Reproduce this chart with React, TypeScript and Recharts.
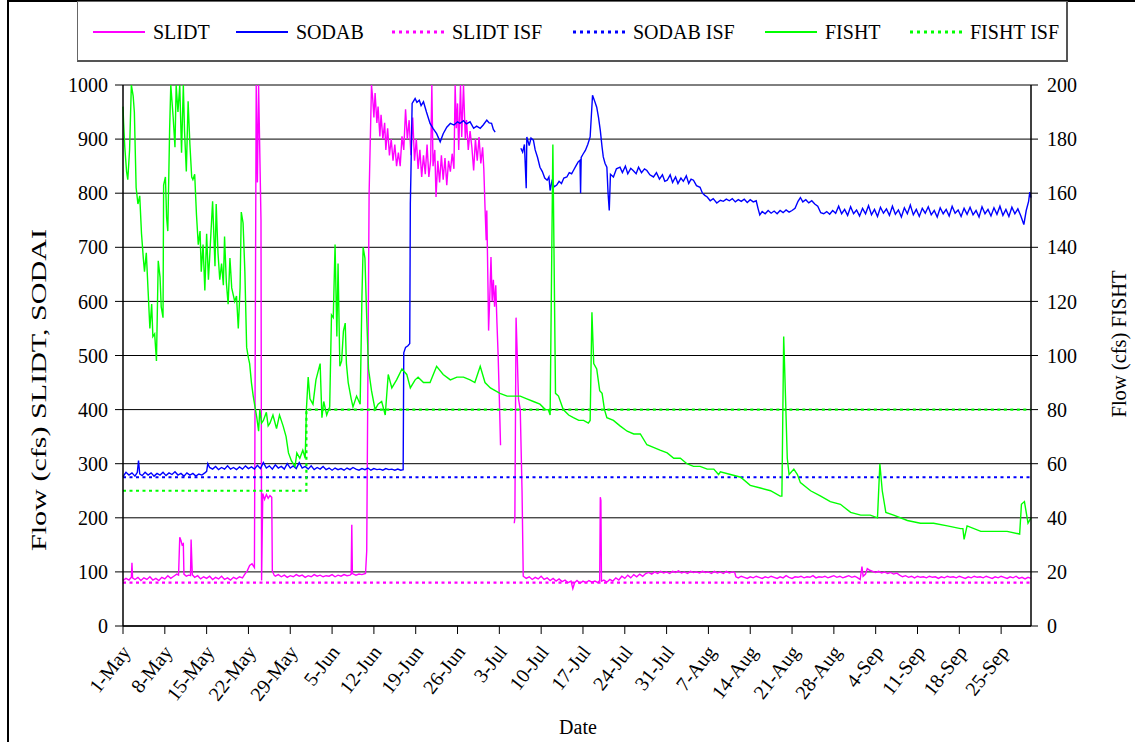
import { LineChart, Line, XAxis, YAxis, CartesianGrid, Legend } from 'recharts';

const FONT = '"Liberation Serif", "Times New Roman", serif';

// weekly tick labels, day 0 = 1-May
const dateTicks = [
  '1-May', '8-May', '15-May', '22-May', '29-May', '5-Jun', '12-Jun', '19-Jun', '26-Jun', '3-Jul', '10-Jul',
  '17-Jul', '24-Jul', '31-Jul', '7-Aug', '14-Aug', '21-Aug', '28-Aug', '4-Sep', '11-Sep', '18-Sep', '25-Sep',
];

const leftTicks = [0, 100, 200, 300, 400, 500, 600, 700, 800, 900, 1000];
const rightTicks = [0, 20, 40, 60, 80, 100, 120, 140, 160, 180, 200];

type Pt = [number, number | null];

// [day since 1-May, cfs]
const slidtFlow: Pt[] = [
  [0, 84], [0.5, 88], [1, 85], [1.4, 90], [1.5, 117], [1.6, 89], [2, 86], [2.5, 90], [3, 84], [3.5, 89], [4, 86],
  [4.5, 91], [5, 85], [5.5, 88], [6, 84], [6.5, 90], [7, 87], [7.5, 93], [8, 88], [8.5, 92], [9, 96], [9.3, 94],
  [9.5, 164], [9.7, 158], [9.9, 150], [10.1, 152], [10.2, 96], [10.6, 92], [11, 94], [11.3, 93], [11.4, 160],
  [11.6, 95], [12, 90], [12.5, 93], [13, 87], [13.5, 91], [14, 88], [14.5, 92], [15, 86], [15.5, 90], [16, 87],
  [16.5, 92], [17, 86], [17.5, 89], [18, 85], [18.5, 90], [19, 87], [19.5, 91], [20, 89], [20.4, 96], [20.8, 102],
  [21.2, 112], [21.6, 115], [22, 108], [22.3, 1000], [22.5, 820], [22.7, 1000], [23.1, 750], [23.2, 84],
  [23.4, 245], [23.7, 234], [24, 243], [24.3, 236], [24.6, 241], [24.9, 238], [25, 102], [25.3, 94], [25.5, 92],
  [26, 95], [26.5, 91], [27, 94], [27.5, 90], [28, 93], [28.5, 91], [29, 95], [29.5, 92], [30, 94], [30.5, 90],
  [31, 93], [31.5, 91], [32, 95], [32.5, 92], [33, 94], [33.5, 91], [34, 93], [34.5, 92], [35, 95], [35.5, 91],
  [36, 94], [36.5, 92], [37, 95], [37.5, 93], [38, 94], [38.2, 96], [38.3, 187], [38.4, 97], [39, 94], [39.5, 96],
  [40, 95], [40.6, 97], [40.8, 139], [41.2, 800], [41.6, 1000], [41.8, 975], [42, 940], [42.2, 985], [42.5, 930],
  [42.7, 960], [43, 905], [43.2, 945], [43.5, 900], [43.8, 930], [44, 880], [44.3, 920], [44.6, 870], [44.9, 900],
  [45.2, 860], [45.5, 890], [45.8, 850], [46.1, 875], [46.4, 850], [46.7, 905], [47, 880], [47.3, 955], [47.6, 900],
  [47.9, 935], [48.2, 870], [48.5, 940], [48.8, 860], [49.1, 900], [49.4, 845], [49.7, 880], [50, 830], [50.3, 870],
  [50.6, 835], [50.9, 890], [51.2, 830], [51.5, 860], [51.7, 1000], [51.9, 850], [52.2, 880], [52.4, 793],
  [52.7, 860], [53, 820], [53.3, 870], [53.6, 825], [53.9, 865], [54.2, 815], [54.5, 860], [54.8, 840], [55.1, 873],
  [55.4, 845], [55.6, 1000], [55.8, 920], [56, 966], [56.2, 880], [56.5, 1000], [56.7, 904], [57, 1000], [57.3, 900],
  [57.5, 935], [57.8, 880], [58.1, 915], [58.4, 885], [58.7, 842], [59, 900], [59.3, 860], [59.6, 904], [59.9, 855],
  [60.2, 885], [60.4, 845], [60.6, 774], [60.8, 713], [60.9, 768], [61.1, 626], [61.2, 546], [61.4, 608],
  [61.6, 682], [61.8, 600], [62, 640], [62.2, 590], [62.4, 630], [62.6, 560], [62.8, 500], [63, 420], [63.2, 334],
  [63.3, null],
  [65.5, 190], [65.6, 200], [65.8, 570], [66, 500], [66.2, 420], [66.5, 400], [66.8, 250], [67, 92], [67.5, 88],
  [68, 91], [68.5, 86], [69, 90], [69.5, 87], [70, 92], [70.5, 86], [71, 89], [71.5, 84], [72, 88], [72.5, 83],
  [73, 87], [73.5, 82], [74, 85], [74.5, 80], [75, 83], [75.3, 69], [75.6, 80], [76, 84], [76.5, 79], [77, 83],
  [77.5, 80], [78, 84], [78.5, 81], [79, 83], [79.5, 80], [79.8, 84], [79.9, 238], [80, 232], [80.1, 83], [80.5, 85],
  [81, 81], [81.5, 86], [82, 83], [82.5, 89], [83, 85], [83.5, 92], [84, 88], [84.5, 94], [85, 89], [85.5, 95],
  [86, 91], [86.5, 96], [87, 92], [87.5, 97], [88, 99], [88.5, 96], [89, 100], [89.5, 97], [90, 101], [90.5, 98],
  [91, 100], [91.5, 97], [92, 101], [92.5, 99], [93, 102], [93.5, 98], [94, 100], [94.5, 97], [95, 101], [95.5, 99],
  [96, 100], [96.5, 98], [97, 101], [97.5, 99], [98, 100], [98.5, 97], [99, 101], [99.5, 98], [100, 100], [100.5, 97],
  [101, 101], [101.5, 98], [102, 100], [102.4, 99], [102.6, 91], [103, 89], [103.5, 92], [104, 90], [104.5, 88],
  [105, 91], [105.5, 89], [106, 92], [106.5, 90], [107, 88], [107.5, 91], [108, 89], [108.5, 92], [109, 90],
  [109.5, 88], [110, 91], [110.5, 89], [111, 93], [111.5, 90], [112, 88], [112.5, 91], [113, 90], [113.5, 92],
  [114, 89], [114.5, 91], [115, 90], [115.5, 93], [116, 89], [116.5, 91], [117, 90], [117.5, 92], [118, 89],
  [118.5, 91], [119, 93], [119.5, 90], [120, 92], [120.5, 89], [121, 91], [121.5, 93], [122, 90], [122.5, 92],
  [123, 89], [123.4, 86], [123.7, 110], [123.9, 92], [124.3, 96], [124.6, 106], [125, 103], [125.5, 101], [126, 99],
  [126.5, 101], [127, 98], [127.5, 100], [128, 97], [128.5, 99], [129, 96], [129.5, 98], [130, 94], [130.5, 91],
  [131, 93], [131.5, 90], [132, 92], [132.5, 89], [133, 92], [133.5, 90], [134, 91], [134.5, 89], [135, 92],
  [135.5, 90], [136, 91], [136.5, 88], [137, 91], [137.5, 89], [138, 92], [138.5, 90], [139, 91], [139.5, 89],
  [140, 92], [140.5, 90], [141, 88], [141.5, 91], [142, 89], [142.5, 92], [143, 90], [143.5, 91], [144, 89],
  [144.5, 92], [145, 90], [145.5, 88], [146, 91], [146.5, 89], [147, 92], [147.5, 90], [148, 88], [148.5, 91],
  [149, 89], [149.5, 92], [150, 88], [150.5, 90], [151, 87], [151.5, 90], [152, 88],
];

const sodabFlow: Pt[] = [
  [0, 276], [0.5, 284], [1, 279], [1.5, 283], [2, 277], [2.4, 284], [2.6, 306], [2.8, 281], [3.2, 278], [3.7, 284],
  [4.2, 279], [4.7, 283], [5.2, 277], [5.7, 282], [6.2, 279], [6.7, 284], [7.2, 278], [7.7, 283], [8.2, 280],
  [8.7, 285], [9.2, 279], [9.7, 282], [10.2, 277], [10.7, 283], [11.2, 279], [11.7, 282], [12.2, 277], [12.7, 281],
  [13.2, 279], [13.7, 283], [14, 286], [14.2, 300], [14.5, 293], [15, 290], [15.5, 295], [16, 289], [16.5, 293],
  [17, 290], [17.5, 296], [18, 290], [18.5, 293], [19, 289], [19.5, 294], [20, 290], [20.5, 296], [21, 291],
  [21.5, 294], [22, 290], [22.5, 297], [23, 291], [23.5, 302], [24, 292], [24.5, 296], [25, 290], [25.5, 298],
  [26, 292], [26.5, 295], [27, 290], [27.5, 300], [28, 292], [28.5, 296], [29, 291], [29.5, 302], [30, 292],
  [30.5, 295], [31, 290], [31.5, 296], [32, 289], [32.5, 293], [33, 290], [33.5, 295], [34, 289], [34.5, 292],
  [35, 288], [35.5, 292], [36, 289], [36.5, 291], [37, 288], [37.5, 292], [38, 289], [38.5, 293], [39, 290],
  [39.5, 288], [40, 291], [40.5, 289], [41, 292], [41.5, 288], [42, 291], [42.5, 289], [43, 290], [43.5, 288],
  [44, 291], [44.5, 289], [45, 290], [45.5, 288], [46, 290], [46.5, 288], [46.9, 289], [47, 505], [47.3, 515],
  [47.7, 518], [48, 522], [48.1, 780], [48.2, 837], [48.4, 966], [48.9, 975], [49.2, 968], [49.6, 972], [49.9, 962],
  [50.3, 969], [50.8, 950], [51.4, 929], [51.9, 920], [52.5, 910], [53.1, 895], [53.6, 910], [54.2, 922],
  [54.8, 929], [55.4, 926], [56, 932], [56.4, 929], [57, 934], [57.5, 928], [58.1, 932], [58.7, 920], [59.2, 924],
  [59.8, 920], [60.3, 926], [60.9, 935], [61.3, 930], [61.7, 929], [62, 918], [62.3, 913],
  [62.4, null],
  [66.6, 883], [66.9, 876], [67.2, 890], [67.5, 809], [67.6, 904], [68, 888], [68.3, 902], [68.7, 898], [69, 880],
  [69.4, 866], [69.8, 848], [70.2, 840], [70.6, 828], [71, 824], [71.3, 830], [71.5, 805], [71.8, 822], [72.2, 812],
  [72.6, 815], [73, 822], [73.4, 818], [73.8, 828], [74.3, 830], [74.7, 838], [75.1, 836], [75.4, 842], [75.8, 850],
  [76.2, 858], [76.5, 861], [76.6, 800], [76.7, 866], [77, 872], [77.4, 879], [77.8, 890], [78.2, 904], [78.6, 981],
  [78.9, 972], [79.3, 959], [79.6, 940], [79.9, 916], [80.2, 885], [80.4, 867], [80.7, 855], [81, 848], [81.2, 800],
  [81.4, 768], [81.6, 835], [82.1, 830], [82.6, 845], [83.2, 848], [83.6, 838], [84.1, 850], [84.5, 836],
  [85, 846], [85.4, 842], [85.9, 836], [86.3, 848], [86.8, 838], [87.3, 845], [87.7, 842], [88.2, 834], [88.8, 830],
  [89.3, 838], [89.8, 826], [90.3, 834], [90.7, 822], [91.1, 824], [91.6, 834], [92, 820], [92.5, 830], [92.9, 818],
  [93.4, 828], [93.8, 822], [94.3, 832], [94.7, 818], [95.1, 826], [95.5, 824], [96, 814], [96.6, 811], [97, 800],
  [97.4, 796], [97.8, 793], [98.3, 786], [98.8, 790], [99.4, 782], [100, 787], [100.5, 785], [101, 789],
  [101.5, 786], [102, 790], [102.5, 784], [103, 788], [103.5, 785], [104, 789], [104.5, 783], [105, 788],
  [105.5, 784], [106, 786], [106.3, 772], [106.6, 760], [107, 766], [107.5, 762], [108, 768], [108.5, 763],
  [109, 767], [109.5, 762], [110, 768], [110.5, 764], [111, 769], [111.5, 765], [112, 768], [112.5, 772],
  [113, 785], [113.4, 792], [113.8, 784], [114.3, 788], [114.8, 782], [115.3, 786], [115.8, 780], [116.3, 776],
  [116.8, 764], [117.3, 762], [117.8, 766], [118.3, 761], [118.8, 768], [119.3, 763], [119.8, 776], [120.3, 762],
  [120.8, 770], [121.3, 759], [121.8, 775], [122.3, 762], [122.8, 769], [123.3, 758], [123.8, 772], [124.3, 762],
  [124.8, 777], [125.3, 760], [125.8, 770], [126.3, 757], [126.8, 774], [127.3, 763], [127.8, 771], [128.3, 759],
  [128.8, 776], [129.3, 761], [129.8, 769], [130.3, 756], [130.8, 773], [131.3, 762], [131.8, 778], [132.3, 760],
  [132.8, 770], [133.3, 757], [133.8, 772], [134.3, 763], [134.8, 775], [135.3, 760], [135.8, 768], [136.3, 756],
  [136.8, 773], [137.3, 762], [137.8, 770], [138.3, 758], [138.8, 776], [139.3, 763], [139.8, 769], [140.3, 757],
  [140.8, 772], [141.3, 761], [141.8, 774], [142.3, 760], [142.8, 768], [143.3, 756], [143.8, 775], [144.3, 762],
  [144.8, 770], [145.3, 758], [145.8, 773], [146.3, 761], [146.8, 776], [147.3, 759], [147.8, 770], [148.3, 757],
  [148.8, 774], [149.3, 762], [149.8, 771], [150.3, 758], [150.8, 742], [151.2, 768], [151.6, 785], [151.8, 802],
  [152, 792],
];

// FISHT is read on the right-hand axis
const fishtFlow: Pt[] = [
  [0, 192], [0.1, 186], [0.3, 177], [0.6, 168], [0.8, 165], [1.1, 176], [1.4, 200], [1.7, 196], [1.9, 190],
  [2.2, 162], [2.5, 156], [2.8, 159], [3.1, 145], [3.4, 136], [3.6, 131], [3.9, 138], [4.2, 124], [4.5, 110],
  [4.8, 119], [5, 107], [5.3, 108], [5.6, 98], [5.9, 135], [6.2, 129], [6.4, 118], [6.7, 114], [6.8, 163],
  [7.1, 166], [7.3, 151], [7.5, 146], [7.8, 183], [8, 200], [8.4, 188], [8.7, 177], [8.9, 200], [9.2, 190],
  [9.5, 200], [9.8, 175], [10.1, 200], [10.3, 183], [10.6, 168], [10.9, 194], [11.2, 178], [11.5, 166], [11.7, 165],
  [12, 167], [12.3, 152], [12.6, 141], [12.9, 146], [13.1, 131], [13.4, 141], [13.7, 124], [14, 145], [14.3, 128],
  [14.5, 136], [15, 157], [15.4, 133], [15.6, 156], [15.9, 138], [16.2, 128], [16.5, 134], [16.8, 126], [17, 144],
  [17.3, 127], [17.6, 119], [17.9, 136], [18.2, 125], [18.4, 123], [18.7, 120], [19, 122], [19.3, 110], [19.6, 125],
  [19.8, 153], [20.1, 149], [20.4, 131], [20.7, 103], [21, 99], [21.2, 97], [21.5, 90], [21.8, 85], [22.1, 81],
  [22.4, 77], [22.7, 72], [22.9, 80], [23.2, 75], [23.5, 76], [24, 79], [24.3, 74], [24.6, 75], [25.1, 78],
  [25.7, 73], [26.2, 78], [26.8, 74], [27.3, 70], [27.7, 64], [28.2, 61], [28.8, 59], [29.1, 64], [29.6, 62],
  [30.1, 65], [30.5, 62], [30.7, 80], [31, 92], [31.3, 84], [31.8, 82], [32.3, 91], [33, 97], [33.3, 77],
  [33.6, 83], [34.1, 78], [34.6, 81], [34.9, 115], [35.2, 114], [35.5, 141], [35.8, 107], [36, 134], [36.3, 96],
  [36.6, 98], [36.9, 109], [37.2, 112], [37.4, 97], [37.7, 90], [38.2, 84], [38.5, 81], [39.1, 85], [39.7, 82],
  [40, 122], [40.2, 140], [40.5, 136], [40.8, 114], [41.1, 95], [41.6, 87], [42.2, 80], [42.7, 82], [43.3, 83],
  [43.9, 78], [44.4, 93], [45, 88], [45.8, 91], [46.7, 95], [47.5, 93], [48.1, 88], [48.9, 91], [49.4, 92],
  [50.3, 90], [51.4, 90], [52.5, 96], [53.6, 93], [54.8, 91], [55.9, 92], [57, 92], [58.1, 91], [58.9, 90],
  [59.8, 96], [60.6, 90], [61.5, 88], [62.3, 87], [63.1, 86], [64.3, 85], [65.4, 85], [66.5, 85], [67.6, 84],
  [68.7, 83], [69.8, 82], [70.7, 80], [71.2, 80], [71.5, 78], [71.96, 178], [72.4, 86], [72.9, 85], [73.7, 80],
  [74.6, 78], [75.4, 77], [76.3, 76], [77.1, 76], [77.9, 75], [78.2, 76], [78.5, 116], [78.8, 97], [79.3, 95],
  [79.8, 87], [80.2, 86], [80.6, 80], [81, 77], [82.1, 76], [83.2, 74], [84.4, 72], [85.5, 71], [86.6, 71],
  [87.7, 67], [88.8, 66], [89.9, 65], [91.1, 64], [92.2, 62], [93.3, 62], [94.4, 60], [95.5, 59], [96.6, 59],
  [97.8, 58], [98.9, 58], [99.7, 56], [100, 57], [101.7, 56], [103.4, 55], [105, 52], [106.7, 51], [108.4, 50],
  [110, 48], [110.3, 48], [110.6, 107], [110.9, 85], [111.2, 62], [111.5, 56], [112.3, 58], [112.9, 56],
  [113.4, 53], [115.1, 50], [116.8, 48], [118.4, 46], [120.1, 45], [121.8, 42], [123.5, 41], [125.1, 41],
  [126.3, 40], [126.7, 60], [127.1, 50], [127.7, 42], [129, 41], [131.3, 39], [133.5, 38], [135.7, 38], [138, 37],
  [140.2, 36], [140.6, 36], [140.8, 32], [141.3, 37], [143.6, 35], [145.8, 35], [148, 35], [150.1, 34],
  [150.4, 45], [150.9, 46], [151.5, 38], [152, 40],
];

// instream flow levels
const slidtIsf: Pt[] = [[0, 80], [152, 80]];
const sodabIsf: Pt[] = [[0, 275], [152, 275]];
const fishtIsf: Pt[] = [[0, 50], [30.7, 50], [30.7, 80], [152, 80]];

const series = [
  { name: 'SLIDT', points: slidtFlow, color: '#ff00ff', axis: 'left', dotted: false },
  { name: 'SODAB', points: sodabFlow, color: '#0000ff', axis: 'left', dotted: false },
  { name: 'SLIDT ISF', points: slidtIsf, color: '#ff00ff', axis: 'left', dotted: true },
  { name: 'SODAB ISF', points: sodabIsf, color: '#0000ff', axis: 'left', dotted: true },
  { name: 'FISHT', points: fishtFlow, color: '#00ff00', axis: 'right', dotted: false },
  { name: 'FISHT ISF', points: fishtIsf, color: '#00ff00', axis: 'right', dotted: true },
];

const toRows = (pts: Pt[]) => pts.map(([day, cfs]) => ({ day, cfs }));

const DateTick = ({ x, y, payload }: any) => (
  <g transform={`translate(${x + 3},${y + 12})`}>
    <text x={0} y={0} dy="0.35em" textAnchor="end" transform="rotate(-52)" fontSize={20} fontFamily={FONT} fill="#000">
      {dateTicks[Math.round(payload.value / 7)]}
    </text>
  </g>
);

const legendX = [15, 158, 314, 495, 687, 832];

function ChartLegend() {
  return (
    <div
      style={{
        position: 'relative',
        width: 991,
        height: 61,
        boxSizing: 'border-box',
        border: '1px solid #666',
        borderRight: '2px solid #555',
        borderBottom: '2px solid #555',
        background: '#fff',
        fontFamily: FONT,
        fontSize: 20,
        color: '#000',
      }}
    >
      {series.map((s, i) => (
        <div
          key={s.name}
          style={{ position: 'absolute', left: legendX[i], top: 0, height: 60, display: 'flex', alignItems: 'center', whiteSpace: 'nowrap' }}
        >
          <svg width={52} height={6}>
            <line
              x1={0}
              x2={52}
              y1={3}
              y2={3}
              stroke={s.color}
              strokeWidth={s.dotted ? 3 : 2}
              strokeDasharray={s.dotted ? '3 4' : undefined}
            />
          </svg>
          <span style={{ marginLeft: 8 }}>{s.name}</span>
        </div>
      ))}
    </div>
  );
}

export default function App() {
  return (
    <div style={{ position: 'absolute', left: 0, top: 0, width: 1135, height: 742, background: '#fff', overflow: 'hidden' }}>
      <div
        style={{ position: 'absolute', left: 7, top: 0, right: -4, bottom: -4, borderTop: '2px solid #000', borderLeft: '2px solid #000' }}
      />
      <LineChart width={1135} height={742} margin={{ top: 85, right: 44, bottom: 56, left: 63 }}>
        <CartesianGrid yAxisId="left" vertical={false} stroke="#000" strokeWidth={1} />
        <XAxis
          type="number"
          dataKey="day"
          domain={[0, 152]}
          ticks={dateTicks.map((_, i) => i * 7)}
          interval={0}
          height={60}
          tick={DateTick}
          tickSize={8}
          stroke="#000"
          axisLine={{ stroke: '#000', strokeWidth: 1.5 }}
          tickLine={{ stroke: '#000' }}
          label={() => (
            <text x={578} y={727} textAnchor="middle" dominantBaseline="central" fontSize={20} fontFamily={FONT} fill="#000">
              Date
            </text>
          )}
        />
        <YAxis
          yAxisId="left"
          domain={[0, 1000]}
          ticks={leftTicks}
          interval={0}
          width={60}
          tickSize={8}
          tickMargin={7}
          allowDataOverflow
          tick={{ fontSize: 20, fontFamily: FONT, fill: '#000' }}
          axisLine={{ stroke: '#000', strokeWidth: 1.5 }}
          tickLine={{ stroke: '#000' }}
          label={() => (
            <text
              transform="translate(39,390) rotate(-90)"
              textAnchor="middle"
              dominantBaseline="central"
              fontSize={20}
              fontFamily={FONT}
              fill="#000"
              textLength={322}
              lengthAdjust="spacingAndGlyphs"
            >
              Flow (cfs) SLIDT, SODAI
            </text>
          )}
        />
        <YAxis
          yAxisId="right"
          orientation="right"
          domain={[0, 200]}
          ticks={rightTicks}
          interval={0}
          width={60}
          tickSize={7}
          tickMargin={9}
          allowDataOverflow
          tick={{ fontSize: 20, fontFamily: FONT, fill: '#000' }}
          axisLine={{ stroke: '#000', strokeWidth: 1.5 }}
          tickLine={{ stroke: '#000' }}
          label={() => (
            <text
              transform="translate(1119,344) rotate(-90)"
              textAnchor="middle"
              dominantBaseline="central"
              fontSize={20}
              fontFamily={FONT}
              fill="#000"
              textLength={147}
              lengthAdjust="spacingAndGlyphs"
            >
              Flow (cfs) FISHT
            </text>
          )}
        />
        <Legend
          verticalAlign="middle"
          align="center"
          layout="horizontal"
          wrapperStyle={{ left: 77, top: 1, width: 991, height: 61 }}
          content={() => <ChartLegend />}
        />
        {series.map((s) => (
          <Line
            key={s.name}
            yAxisId={s.axis}
            data={toRows(s.points)}
            dataKey="cfs"
            name={s.name}
            type="linear"
            stroke={s.color}
            strokeWidth={s.dotted ? 2.2 : 1.4}
            strokeDasharray={s.dotted ? '3 3.5' : undefined}
            dot={false}
            activeDot={false}
            connectNulls={false}
            isAnimationActive={false}
          />
        ))}
      </LineChart>
    </div>
  );
}
